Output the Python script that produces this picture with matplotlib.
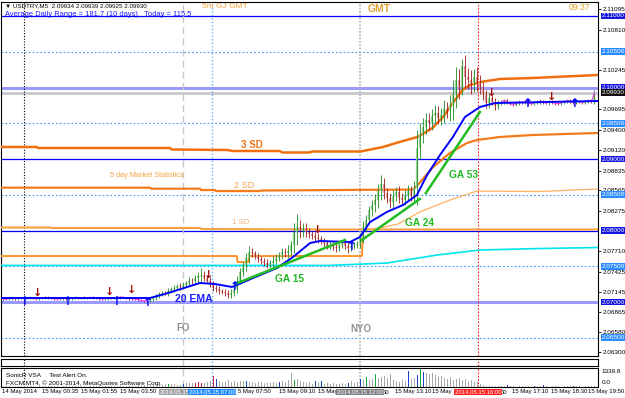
import matplotlib
matplotlib.use("Agg")
from matplotlib import pyplot as plt
from matplotlib.transforms import blended_transform_factory
import numpy as np

plt.rcParams['font.family'] = ['Liberation Sans', 'DejaVu Sans']

W, H = 625, 398

# prices in points (1e-5) above this base
base = 2.06

closes_pts = [
    # flat Asian session
    1035, 1040, 1048, 1050, 1045, 1055, 1060, 1052, 1058, 1062, 1050, 1045, 1055, 1060, 1065, 1058,
    1050, 1045, 1040, 1048, 1052, 1045, 1050, 1055, 1060, 1058, 1062, 1055, 1060, 1065, 1062, 1058,
    1050, 1040, 1045, 1055, 1050, 1060, 1065, 1070, 1062, 1055, 1050, 1045, 1040, 1030, 1020, 1015, 1025,
    # early rise
    1040, 1060, 1085, 1110, 1130, 1120, 1150, 1180, 1200, 1220, 1210, 1240, 1270, 1300, 1290, 1330, 1360,
    1380, 1340, 1300, 1250, 1200, 1180, 1150, 1140, 1120, 1100, 1130, 1180,
    # London
    1300, 1420, 1500, 1620, 1700, 1680, 1640, 1600, 1580, 1550, 1520, 1540, 1580, 1620, 1650, 1700,
    1690, 1720, 1800, 1980, 2050, 1990, 2030, 1980, 1950, 1930, 1900, 1880, 1850,
    1820, 1790, 1800, 1770, 1760, 1800, 1830, 1790, 1750, 1780, 1800, 1810,
    # NY open
    1900, 2050, 2150, 2280, 2350, 2420, 2550, 2650, 2520, 2450, 2400, 2480, 2540, 2460, 2420, 2500,
    2550, 2480, 2600,
    3150, 3350, 3450, 3550, 3500, 3600, 3650, 3580, 3620, 3700, 3680, 3750, 3900, 4100, 4000, 4300,
    4150, 4100, 4050, 4150, 4080,
    4000, 3900, 3780, 3850, 3800, 3740, 3780,
    # late flat
    3800, 3820, 3790, 3770, 3760, 3780, 3800, 3790, 3810, 3780, 3770, 3790, 3800, 3810, 3790, 3780,
    3800, 3790, 3780, 3770, 3790, 3800, 3820, 3800, 3790, 3810, 3800, 3790, 3810, 3820, 3800, 3930,
]

wick_pts = [
    15, 10, 12, 15, 10, 20, 15, 10, 12, 18, 10, 15, 12, 10, 15, 12,
    10, 15, 12, 10, 15, 12, 10, 15, 18, 12, 10, 15, 12, 10, 15, 12,
    15, 10, 12, 15, 10, 12, 15, 18, 12, 10, 15, 12, 10, 15, 12, 10, 15,
    20, 30, 25, 35, 30, 25, 40, 30, 35, 30, 40, 35, 30, 45, 40, 50, 60,
    90, 50, 40, 45, 50, 40, 45, 35, 40, 50, 45, 40,
    60, 50, 60, 70, 80, 50, 40, 45, 50, 40, 45, 50, 60, 50, 45, 50,
    60, 80, 60, 120, 180, 100, 80, 70, 60, 50, 45, 60, 45,
    40, 45, 50, 40, 60, 45, 40, 50, 60, 40, 45, 50,
    60, 80, 70, 60, 80, 90, 100, 120, 80, 70, 80, 90, 70, 80, 70, 60,
    80, 70, 90,
    250, 150, 120, 100, 90, 100, 110, 90, 100, 120, 100, 150, 200, 180, 160, 100,
    150, 120, 140, 110, 130,
    90, 80, 70, 60, 50, 60, 40,
    20, 25, 20, 15, 20, 25, 20, 15, 20, 25, 20, 15, 20, 25, 20, 15,
    20, 25, 20, 15, 20, 25, 20, 15, 20, 25, 20, 15, 20, 25, 20, 30,
]

volumes = [
    40, 60, 50, 30, 70, 50, 40, 60, 80, 50, 40, 30, 60, 50, 70, 40,
    50, 60, 40, 30, 50, 70, 60, 40, 50, 80, 60, 40, 30, 50, 60, 40,
    50, 70, 60, 40, 50, 60, 80, 90, 70, 60, 50, 80, 100, 120, 150, 130, 160,
    180, 150, 200, 170, 140, 220, 250, 200, 230, 180, 150, 200, 260, 300, 280, 320, 350,
    300, 280, 350, 420, 800, 600, 450, 380, 400, 520, 350, 420,
    380, 420, 450, 450, 350, 400, 300, 350, 380, 300, 280, 320, 350, 300, 380, 420,
    350, 520, 1040, 500, 600, 450, 380, 300, 350, 250, 450, 300, 420,
    250, 300, 220, 280, 200, 250, 300, 220, 280, 450, 300, 350,
    600, 500, 740, 520, 600, 960, 700, 740, 800, 700, 960, 520, 450, 380, 500, 450,
    1190, 600, 700,
    890, 1340, 1110, 1040, 960, 1000, 900, 740, 800, 700, 600, 740, 520, 600, 700, 500,
    600, 450, 500, 370, 370,
    200, 120, 80, 60, 70, 50, 60,
    50, 40, 150, 40, 50, 30, 40, 60, 50, 40, 30, 110, 40, 50, 120, 40,
    30, 50, 40, 60, 30, 50, 40, 40, 110, 50, 40, 30, 50, 40, 60, 50,
]

# n = neutral, b = blue, r = red, g = green (SonicR VSA colouring)
vol_kind = (
    "nnnnnnnnnnnnnnnn" "nnnnnnnnnnnnnnnn" "nnnnnnnnnnnnnnnnn"
    "nnnnnngnnnnbnnnrr"
    "rnnnrbnnnnnn"
    "nnnbnnnnnnnnnnbn" "nnngnnnnnnbnb"
    "nnnnnnnnbnnn"
    "bngnngnnnnnnnnnn" "bnn"
    "bgbnnnnnnnnnnnnn" "nnnnn"
    "nnnnnnn"
    "nnbnnnnnnnnbnnbn" "nnnnnnnnbnnnnnnn"
)

# 20 EMA (bar index, points)
ema_x = [-0.8, 48.8, 53.8, 65.5, 70.5, 76.2, 83.2, 91.2, 96.5, 102.2, 105.5, 115.5,
         118.8, 122.2, 127.8, 133.2, 137.8, 141.2, 145.5, 149.8, 153.8, 158.8, 163.8, 198.2]
ema_pts = [1056, 1056, 1112, 1266, 1252, 1210, 1336, 1476, 1629, 1825, 1853, 1839,
           1909, 2119, 2259, 2357, 2497, 2776, 3056, 3308, 3587, 3727, 3783, 3811]

# GA trend lines (start/end bar, start/end points)
ga_names = ["GA 15", "GA 24", "GA 53"]
ga_x = [(77.2, 113.8), (119.5, 138.8), (140.8, 158.8)]
ga_pts = [(1252, 1867), (1867, 2441), (2524, 3657)]

# market statistics bands
upper_x = [-0.8, 11, 11.5, 55.5, 56, 74.5, 76.5, 92, 93, 102, 103, 119, 126.5, 132,
           138, 143, 146.5, 150, 153, 155.5, 159, 165.5, 176.5, 198.2]
upper_p = [2.09168, 2.09168, 2.09154, 2.09154, 2.09133, 2.09126, 2.09112, 2.09112,
           2.09091, 2.09091, 2.09105, 2.09105, 2.09168, 2.09238, 2.09308, 2.09434,
           2.09587, 2.09797, 2.09965, 2.10035, 2.10077, 2.10119, 2.10133, 2.10175]
lower_x = [-0.8, 48.8, 49.2, 65.5, 65.8, 70.5, 70.8, 85.5, 85.8, 136.5, 138.8, 143.2,
           148.8, 154.5, 157.8, 165.5, 176.5, 198.2]
lower_p = [2.08599, 2.08599, 2.08585, 2.08585, 2.08566, 2.08566, 2.08552, 2.08552,
           2.08559, 2.08573, 2.08671, 2.08888, 2.09084, 2.09224, 2.09266, 2.09308,
           2.09336, 2.09364]
sd1_x = [-0.8, 15.5, 16, 65.5, 66, 106, 198.2]
sd1_p = [2.08042, 2.08042, 2.08035, 2.08035, 2.08020, 2.08014, 2.08014]
range_x = [-0.8, 77.8, 78, 81.5, 82, 119.5, 119.8]
range_p = [2.07643, 2.07643, 2.07559, 2.07559, 2.07643, 2.07643, 2.08014]
thin_x = [119.8, 125.5, 131.5, 138.8, 148.8, 157.8, 178, 198.2]
thin_p = [2.08014, 2.08035, 2.08091, 2.08259, 2.08427, 2.08552, 2.08545, 2.08580]
cyan_x = [-0.8, 108.8, 127.8, 144.5, 158.8, 178.8, 198.2]
cyan_p = [2.07512, 2.07512, 2.07545, 2.07657, 2.07727, 2.07748, 2.07762]

# signal arrows
up_x = [7.2, 21.5, 37.8, 48.2, 77.2, 116.2, 174.8, 190.5]
up_p = [2.07010, 2.07010, 2.07010, 2.06990, 2.07210, 2.07770, 2.09780, 2.09780]
down_x = [11.5, 35.5, 42.8, 68.2, 104.8, 162.8, 182.8]
down_p = [2.07126, 2.07140, 2.07168, 2.07378, 2.08007, 2.09923, 2.09867]

# session lines
event_x = [6.8, 59.8, 69.5, 118.8, 158.2]

levels_solid = [2.11, 2.09, 2.08]
levels_lav = [2.10, 2.07]
levels_dot = [2.105, 2.095, 2.085, 2.075, 2.065]
bid = 2.09930

yticks = [2.11095, 2.10810, 2.10245, 2.09695, 2.09400, 2.09120, 2.08835, 2.08565,
          2.08275, 2.07710, 2.07425, 2.07145, 2.06865, 2.06580, 2.06300]

# time scale labels (partly hidden behind the session boxes, as on the terminal)
xtick_x = [-0.5, 13, 26, 39, 78.2, 92, 105, 126.6, 130.5, 142.8, 165.9, 169.5, 182.5, 195.0]
xtick_lbl = ["14 May 2014", "15 May 00:35", "15 May 01:55", "15 May 03:50", "5 May 07:50",
             "15 May 09:10", "15 May", "50", "15 May 13:10", "15 May",
             "50", "15 May 17:10", "15 May 18:30", "15 May 19:50"]
box_x = [52.2, 69.5, 118.8, 158.2]
box_lbl = ["2014.05.15", "2014.05.15 07:00", "2014.05.15 12:00", "2014.05.15 16:00"]


def px_box(left, top, right, bottom):
    return [left / W, 1 - bottom / H, (right - left) / W, (bottom - top) / H]


def to_price(v):
    return base + np.asarray(v, dtype=float) / 1e5


fig = plt.figure(figsize=(W / 100, H / 100), dpi=100)
ax = fig.add_axes(px_box(1, 2, 598, 356))
ax_mid = fig.add_axes(px_box(1, 359, 598, 366))
axv = fig.add_axes(px_box(1, 368, 598, 387))

xlim = (-0.83, 198.17)
for a in (ax, ax_mid, axv):
    a.set_xlim(*xlim)
    a.set_xticks([])
    for s in a.spines.values():
        s.set_linewidth(0.8)
        s.set_color('black')
ax.set_ylim(2.062448, 2.111958)

# horizontal levels
for lv in levels_solid:
    ax.axhline(lv, color='#0000ff', lw=0.9, zorder=1)
for lv in levels_lav:
    ax.axhline(lv, color='#9999ff', lw=2.2, zorder=1)
for lv in levels_dot:
    ax.axhline(lv, color='#3399ff', lw=0.8, ls=(0, (1.5, 2)), zorder=1)
ax.axhline(bid, color='#c8c8c8', lw=2, zorder=1)

# session verticals
vstyles = [dict(color='black', ls=(0, (1, 1.5)), lw=0.8),
           dict(color='#c8c8c8', ls=(0, (5, 3)), lw=1.0),
           dict(color='#66b3ff', ls=(0, (1, 1.5)), lw=1.0),
           dict(color='#b0b0b0', ls=(0, (1, 1)), lw=1.2),
           dict(color='#ff2020', ls=(0, (1.5, 1.5)), lw=0.8)]
for ex, st in zip(event_x, vstyles):
    for a in (ax, ax_mid, axv):
        a.axvline(ex, zorder=1, **st)

# bands
ax.plot(upper_x, upper_p, color='#f07010', lw=1.8, zorder=3)
ax.plot(lower_x, lower_p, color='#f47a1a', lw=1.6, zorder=3)
ax.plot(sd1_x, sd1_p, color='#f5a040', lw=1.5, zorder=3)
ax.plot(range_x, range_p, color='#ff8c1a', lw=1.3, zorder=3)
ax.plot(thin_x, thin_p, color='#ffb060', lw=0.9, zorder=3)
ax.plot(cyan_x, cyan_p, color='#00e5ee', lw=1.2, zorder=3)

# candles
x = np.arange(len(closes_pts))
c = to_price(closes_pts)
o = np.r_[c[0], c[:-1]]
w = np.asarray(wick_pts) / 1e5
hi = np.maximum(o, c) + w
lo = np.minimum(o, c) - w
up = c >= o
ax.vlines(x[up], o[up], c[up], color='#9ad49a', lw=1.6, zorder=4)
ax.vlines(x[~up], c[~up], o[~up], color='#dca0a0', lw=1.6, zorder=4)
ax.vlines(x[up], lo[up], hi[up], color='#1e8c1e', lw=0.6, zorder=5)
ax.vlines(x[~up], lo[~up], hi[~up], color='#a01818', lw=0.6, zorder=5)

# magenta fast MA in the quiet parts
ax.plot(x[:49], c[:49], color='#ff40ff', lw=0.8, zorder=6)
ax.plot(x[166:], c[166:], color='#ff40ff', lw=0.8, zorder=6)

# 20 EMA
ax.plot(ema_x, to_price(ema_pts), color='#0000ff', lw=1.4, zorder=7)

# GA lines
for gx, gp in zip(ga_x, ga_pts):
    ax.plot(gx, to_price(gp), color='#22bb22', lw=1.8, zorder=7)

# signal arrows
for ux, upv in zip(up_x, up_p):
    ax.text(ux, upv, "\u2191", family=['DejaVu Sans'], fontsize=8.5, fontweight='bold',
            color='#0000ff', ha='center', va='center', zorder=8)
for dx, dpv in zip(down_x, down_p):
    ax.text(dx, dpv, "\u2193", family=['DejaVu Sans'], fontsize=8, fontweight='bold',
            color='#a01010', ha='center', va='center', zorder=8)

# chart annotations
ax.text(79.2, 2.09196, "3 SD", color='#f07010', fontsize=7, fontweight='bold', va='center')
ax.text(35.5, 2.08776, "5 day Market Statistics", color='#f7a040', fontsize=5.3, va='center')
ax.text(76.8, 2.08636, "2 SD", color='#f5a055', fontsize=6.6, va='center')
ax.text(76.2, 2.08105, "1 SD", color='#f5b070', fontsize=5.6, va='center')
ax.text(148.5, 2.08776, "GA 53", color='#22bb22', fontsize=7.3, fontweight='bold', va='center')
ax.text(133.8, 2.08105, "GA 24", color='#22bb22', fontsize=7.3, fontweight='bold', va='center')
ax.text(90.5, 2.07322, "GA 15", color='#22bb22', fontsize=7.3, fontweight='bold', va='center')
ax.text(57.2, 2.07042, "20 EMA", color='#1a1aff', fontsize=7.5, fontweight='bold', va='center')
ax.text(57.5, 2.06636, "FO", color='#909090', fontsize=7, fontweight='bold', va='center')
ax.text(115.5, 2.06622, "NYO", color='#909090', fontsize=7, fontweight='bold', va='center')

# right price scale
ax.yaxis.tick_right()
ax.set_yticks(yticks)
ax.set_yticklabels([f"{t:.5f}" for t in yticks])
ax.tick_params(axis='y', length=2.5, width=0.6, labelsize=4.6, pad=1, colors='black')
ytr = ax.get_yaxis_transform()
box_levels = [(2.11, '#1515e0'), (2.105, '#2b8cff'), (2.10, '#1515e0'), (bid, '#101010'),
              (2.095, '#2b8cff'), (2.09, '#1515e0'), (2.085, '#2b8cff'), (2.08, '#1515e0'),
              (2.075, '#2b8cff'), (2.07, '#1515e0'), (2.065, '#2b8cff')]
for lv, col in box_levels:
    ax.text(1.006, lv, f"{lv:.5f}", transform=ytr, fontsize=4.6, color='white',
            ha='left', va='center', clip_on=False, zorder=10,
            bbox=dict(boxstyle='square,pad=0.12', fc=col, ec='none'))

# header texts
fig.text(5 / W, 1 - 6 / H, "\u25bc USDTRY,M5  2.09934 2.09939 2.09925 2.09930", fontsize=4.5,
         color='black', va='center')
fig.text(5 / W, 1 - 14 / H, "Average Daily Range = 181.7 (10 days)   Today = 115.5",
         fontsize=5.4, color='#1a1aff', va='center')
fig.text(202 / W, 1 - 6 / H, "5m GJ GMT", fontsize=6, color='#f7a23c', va='center')
fig.text(368 / W, 1 - 9 / H, "GMT", fontsize=7.5, fontweight='bold', color='#e0a030', va='center')
fig.text(590 / W, 1 - 8 / H, "09:37", fontsize=6.2, color='#e0a030', va='center', ha='right')

# middle (empty) indicator strip
ax_mid.set_yticks([])

# volume panel
vcol = {'n': '#a8a8a8', 'b': '#1f3fd0', 'r': '#d02040', 'g': '#10b040'}
axv.bar(x, volumes, width=0.65, color=[vcol[k] for k in vol_kind], zorder=3)
axv.set_ylim(0, 1400)
axv.set_yticks([])
axv.text(1.006, 0.82, "1339.8", transform=axv.transAxes, fontsize=4.6, va='center')
axv.text(1.006, 0.22, "0.0", transform=axv.transAxes, fontsize=4.6, va='center')
axv.text(0.008, 0.63, "SonicR VSA     Test Alert On.", transform=axv.transAxes,
         fontsize=4.6, va='center', zorder=5)
axv.text(0.008, 0.2, "FXCM MT4, \u00a9 2001-2014, MetaQuotes Software Corp.",
         transform=axv.transAxes, fontsize=4.6, va='center', zorder=5)

# time scale
ttr = blended_transform_factory(axv.transData, fig.transFigure)
ty = 1 - 392 / H
for tx, tl in zip(xtick_x, xtick_lbl):
    fig.text(tx, ty, tl, transform=ttr, fontsize=4.3, va='center', ha='left', zorder=2)
box_cols = ['#a0a0a0', '#1e8cff', '#808080', '#ff2020']
box_ha = ['left', 'center', 'center', 'center']
for bx, lbl, col, ha in zip(box_x, box_lbl, box_cols, box_ha):
    fig.text(bx, ty, lbl, transform=ttr, fontsize=4.3, va='center', ha=ha,
             color='white', zorder=3,
             bbox=dict(boxstyle='square,pad=0.15', fc=col, ec='none'))

fig.savefig("out.png", dpi=100, facecolor='white')
